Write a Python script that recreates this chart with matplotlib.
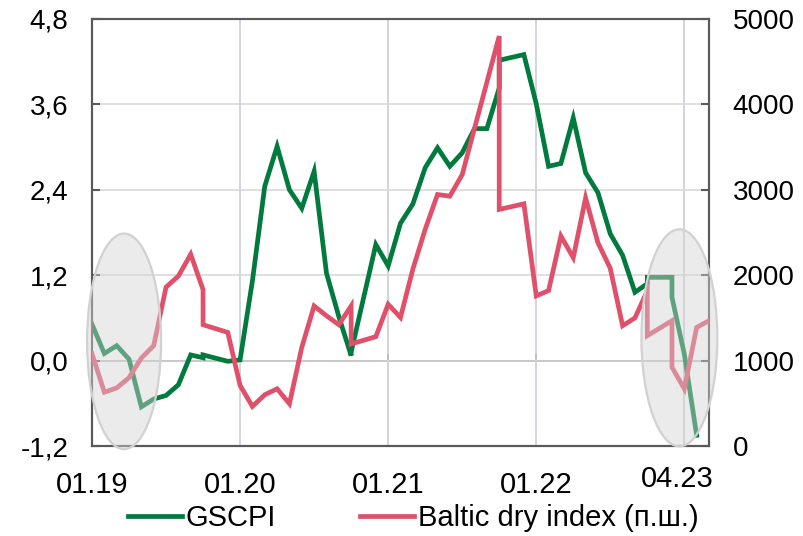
import numpy as np
import matplotlib
matplotlib.use("Agg")
import matplotlib.pyplot as plt
from matplotlib.patches import Ellipse
from matplotlib.lines import Line2D

plt.rcParams['font.family'] = ['Liberation Sans', 'DejaVu Sans']

# Position of each observation, in months since January 2019
month_pos = [0, 1, 2, 3, 4, 5, 6, 7, 8, 9,
             9, 11, 12, 13, 14, 15, 16, 17, 18, 19,
             20, 21, 21, 23, 24, 25, 26, 27, 28, 29,
             30, 31, 32, 33, 33, 35, 36, 37, 38, 39,
             40, 41, 42, 43, 44, 45, 45, 47, 47, 48,
             49, 50]

# Global Supply Chain Pressure Index (left scale)
gscpi = [0.51, 0.10, 0.21, 0.02, -0.65, -0.54, -0.49, -0.34, 0.08, 0.04,
         0.08, -0.01, 0.01, 1.12, 2.45, 3.01, 2.40, 2.14, 2.66, 1.23,
         0.62, 0.07, 0.12, 1.63, 1.33, 1.93, 2.20, 2.71, 2.99, 2.73,
         2.92, 3.26, 3.26, 3.83, 4.22, 4.30, 3.61, 2.73, 2.77, 3.41,
         2.64, 2.36, 1.78, 1.48, 0.96, 1.08, 1.17, 1.17, 0.89, 0.09,
         -1.05, np.nan]

# Baltic Dry Index (right scale)
bdi = [1080, 630, 680, 800, 1030, 1175, 1860, 1990, 2245, 1830,
       1420, 1330, 710, 463, 600, 670, 495, 1155, 1640, 1525,
       1420, 1640, 1195, 1280, 1660, 1505, 2070, 2537, 2945, 2925,
       3178, 3720, 4260, 4800, 2770, 2836, 1758, 1820, 2459, 2205,
       2905, 2380, 2080, 1408, 1500, 1817, 1292, 1467, 922, 670,
       1389, 1467]

year_ticks = [0, 12, 24, 36, 48]
year_labels = ['01.19', '01.20', '01.21', '01.22', '']
last_label = '04.23'

left_ticks = [-1.2, 0.0, 1.2, 2.4, 3.6, 4.8]
left_labels = ['-1,2', '0,0', '1,2', '2,4', '3,6', '4,8']
right_ticks = [0, 1000, 2000, 3000, 4000, 5000]

GREEN = '#007a3d'
RED = '#e0506a'
FRAME = '#595959'
LW = 3.4

fig = plt.figure(figsize=(8.04, 5.36), dpi=100)
ax = fig.add_axes([92 / 804, 1 - 446 / 536, (709 - 92) / 804, (446 - 19) / 536])
ax2 = ax.twinx()

ax.set_xlim(0, 50)
ax.set_ylim(-1.2, 4.8)
ax2.set_ylim(0, 5000)

# grid
ax.set_yticks(left_ticks)
ax.set_yticklabels(left_labels)
ax.set_xticks(year_ticks)
ax.set_xticklabels(year_labels)
ax.grid(axis='y', color='#d9d9d9', lw=1.2)
ax.grid(axis='x', color='#c9cdd2', lw=1.2)
ax.set_axisbelow(True)

# zero line with year ticks
sec = ax.secondary_xaxis(0, transform=ax.transData)
sec.set_xticks(year_ticks)
sec.set_xticklabels([])
sec.tick_params(direction='in', length=5, width=1.3, color='#6e6e6e')
for s in sec.spines.values():
    s.set_color('#7a7a7a')
    s.set_linewidth(1.4)

ax.plot(month_pos, gscpi, color=GREEN, lw=LW, solid_joinstyle='miter', zorder=3)
ax2.plot(month_pos, bdi, color=RED, lw=LW, solid_joinstyle='miter', zorder=3)

for a in (ax, ax2):
    for s in a.spines.values():
        s.set_color(FRAME)
        s.set_linewidth(1.5)

ax.tick_params(axis='y', direction='in', length=6, width=1.5, color=FRAME,
               labelsize=20, pad=17)
ax.tick_params(axis='x', length=0, labelsize=21, pad=18)
ax2.set_yticks(right_ticks)
ax2.set_yticklabels([str(v) for v in right_ticks])
ax2.tick_params(axis='y', direction='in', length=6, width=1.5, color=FRAME,
                labelsize=20, pad=17)

ax.annotate(last_label, xy=(47.4, 0), xycoords=('data', 'axes fraction'),
            xytext=(0, -14), textcoords='offset points',
            ha='center', va='top', fontsize=21)

# highlighted periods
for cx, cy, w, h in [(2.6, 0.27, 6.0, 3.03), (47.6, 0.32, 6.15, 3.05)]:
    e = Ellipse((cx, cy), w, h, transform=ax.transData,
                facecolor=(0.83, 0.83, 0.83, 0.45),
                edgecolor=(0.82, 0.82, 0.82, 1.0), lw=1.6,
                clip_on=False, zorder=10)
    ax2.add_patch(e)

handles = [Line2D([], [], color=GREEN, lw=LW),
           Line2D([], [], color=RED, lw=LW)]
fig.legend(handles, ['GSCPI', 'Baltic dry index (п.ш.)'],
           loc='center', bbox_to_anchor=(0.514, 0.034), ncol=2,
           frameon=False, fontsize=21, handlelength=1.85,
           handletextpad=0.12, columnspacing=2.9, borderpad=0)

fig.savefig('out.png', dpi=100)
